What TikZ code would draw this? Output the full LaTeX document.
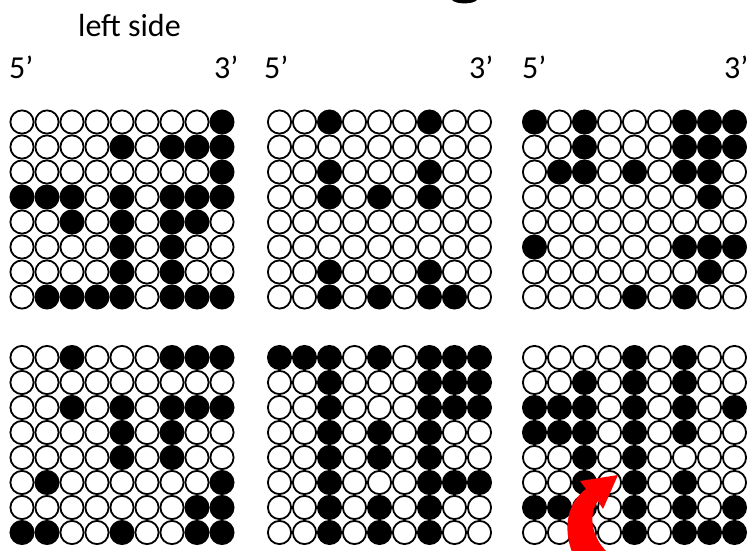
\documentclass[tikz,border=0pt]{standalone}
\usepackage{fontspec}
\setmainfont{Carlito}
\tikzset{
  wdot/.style={draw=black, line width=1.8pt, fill=white},
  bdot/.style={draw=black, line width=1.8pt, fill=black},
  lbl/.style={anchor=base west, inner sep=0pt, font=\fontsize{32}{36}\selectfont},
}
\newcommand{\dotgrid}[3]{%
  \foreach \rowvals [count=\rr from 0] in {#3} {%
    \foreach \v [count=\cc from 0] in \rowvals {%
      \ifnum\v=1
        \path[bdot] ({#1+\cc*25},{#2+\rr*25}) circle[radius=11.6pt];
      \else
        \path[wdot] ({#1+\cc*25},{#2+\rr*25}) circle[radius=11.6pt];
      \fi
    }%
  }%
}
\begin{document}
\begin{tikzpicture}[x=1pt,y=-1pt]
\useasboundingbox (0,0) rectangle (748,550);
% piece of a cut-off letter at top
\fill (452,0) .. controls (456,4.5) and (473,4.5) .. (477,0) -- cycle;
% labels
\node[lbl] (ls) at (78,36) {left side};
\node[lbl] (a5) at (9,78) {5’};
\node[lbl] (a3) at (214,78) {3’};
\node[lbl] (b5) at (264,78) {5’};
\node[lbl] (b3) at (469,78) {3’};
\node[lbl] (c5) at (522,78) {5’};
\node[lbl] (c3) at (724,78) {3’};
% grids
\dotgrid{22}{122}{{0,0,0,0,0,0,0,0,1},{0,0,0,0,1,0,1,1,1},{0,0,0,0,0,0,0,0,1},{1,1,1,0,1,0,1,1,1},{0,0,1,0,1,0,1,1,0},{0,0,0,0,1,0,1,0,0},{0,0,0,0,1,0,1,0,0},{0,1,1,1,1,0,1,1,1}}
\dotgrid{279.5}{122}{{0,0,1,0,0,0,1,0,0},{0,0,0,0,0,0,0,0,0},{0,0,1,0,0,0,1,0,0},{0,0,1,0,1,0,1,0,0},{0,0,0,0,0,0,0,0,0},{0,0,0,0,0,0,0,0,0},{0,0,1,0,0,0,1,0,0},{0,0,1,0,1,0,1,1,0}}
\dotgrid{534.5}{122}{{1,0,1,0,0,0,1,1,1},{0,0,1,0,0,0,1,1,1},{0,1,1,0,1,0,1,1,0},{0,0,0,0,0,0,0,1,0},{0,0,0,0,0,0,0,0,0},{1,0,0,0,0,0,1,1,1},{0,0,0,0,0,0,0,1,0},{0,0,0,0,1,0,1,0,0}}
\dotgrid{22}{357.5}{{0,0,1,0,0,0,1,1,1},{0,0,0,0,0,0,0,0,0},{0,0,1,0,1,0,1,1,1},{0,0,0,0,1,0,1,0,0},{0,0,0,0,1,0,1,0,0},{0,1,0,0,0,0,0,0,1},{0,0,0,0,0,0,0,1,1},{1,1,0,0,1,0,0,1,1}}
\dotgrid{279.5}{357.5}{{1,1,1,0,1,0,1,1,1},{0,0,1,0,0,0,1,1,1},{0,0,1,0,0,0,1,1,1},{0,0,1,0,1,0,1,0,0},{0,0,1,0,1,0,1,0,0},{0,0,1,0,0,0,1,1,1},{0,0,1,0,1,0,1,0,0},{0,0,1,0,1,0,1,0,0}}
\dotgrid{534.5}{357.5}{{0,0,0,0,1,0,1,0,0},{0,0,1,0,1,0,1,0,0},{1,1,1,0,1,0,1,0,1},{1,1,1,0,1,0,1,0,0},{0,0,1,0,1,0,0,0,0},{0,0,1,0,1,0,1,0,0},{1,1,1,0,1,0,1,0,1},{0,0,0,0,1,0,1,1,1}}
% red curved arrow
\fill[red] (572,552) .. controls (563,528) and (567,503) .. (586,489)
  -- (580,481) -- (618,475) -- (603,509) -- (598,501)
  .. controls (589,513) and (590,535) .. (607,552) -- cycle;
\end{tikzpicture}
\end{document}
